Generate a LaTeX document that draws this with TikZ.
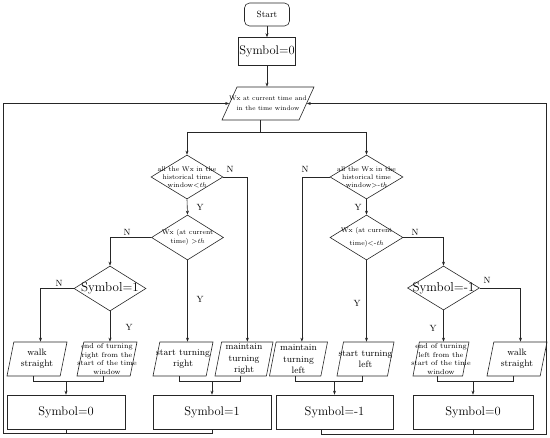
\documentclass[tikz,border=0pt]{standalone}
\usetikzlibrary{shapes.geometric,arrows.meta,calc}
\begin{document}
\begin{tikzpicture}[x=1pt,y=-1pt,
  line/.style={draw=black!85, line width=0.6pt},
  arr/.style={line, -{Stealth[length=4pt,width=3pt]}},
  pbox/.style={trapezium, trapezium left angle=81.6, trapezium right angle=98.4,
    trapezium stretches=true, line, minimum width=60, minimum height=34, inner sep=1pt},
  dbox/.style={diamond, line, inner sep=1pt, minimum width=72, minimum height=44},
  sbox/.style={rectangle, line, minimum width=118, minimum height=34, inner sep=0,
    font=\fontsize{12.5}{14}\selectfont},
  ptxt/.style={font=\fontsize{9.3}{11.4}\selectfont, align=center, inner sep=0},
  etxt/.style={font=\fontsize{7.2}{8.7}\selectfont, align=center, inner sep=0},
  dtxt/.style={font=\fontsize{6.8}{8}\selectfont, align=center, inner sep=0},
  ctxt/.style={font=\fontsize{6.8}{9}\selectfont, align=center, inner sep=0},
  symd/.style={font=\fontsize{13}{15}\selectfont, inner sep=0},
  yn/.style={font=\fontsize{9}{10}\selectfont, inner sep=0}]
\useasboundingbox (0,0) rectangle (550,438);

% top
\node[line, rounded corners=5pt, minimum width=45, minimum height=23, inner sep=0,
  font=\fontsize{9}{10}\selectfont] (start) at (267,14.5) {Start};
\node[sbox, minimum width=57, minimum height=28] (s0top) at (267,51.5) {Symbol=0};
\node[pbox, trapezium left angle=76.4, trapezium right angle=103.6,
  minimum width=92, minimum height=33,
  label={[font=\fontsize{6.5}{10}\selectfont, align=center, inner sep=0]center:Wx at current time and\\in the time window}] (in) at (268,103.5) {};

% decisions
\node[dbox, label={[dtxt]center:all the Wx in the\\historical time\\window<\textit{th}}] (d1) at (187,177) {};
\node[dbox, minimum height=45, label={[ctxt]center:Wx (at current\\time) >\textit{th}}] (d2) at (187.5,237.5) {};
\node[dbox, minimum width=73, label={[dtxt]center:all the Wx in the\\historical time\\window>-\textit{th}}] (d3) at (366.5,177) {};
\node[dbox, minimum width=73, minimum height=45, label={[font=\fontsize{6.8}{13}\selectfont, align=center, inner sep=0]center:Wx (at current\\time)<-\textit{th}}] (d4) at (366.5,237.5) {};
\node[dbox, minimum height=45, label={[symd]center:Symbol=1}] (s1d) at (110,288.5) {};
\node[dbox, label={[symd]center:Symbol=-1}] (d5) at (443.5,288) {};

% actions
\node[pbox, label={[ptxt]center:walk\\straight}] (ws1) at (37,359) {};
\node[pbox, label={[etxt]center:end of turning\\right from the\\start of the time\\window}] (etr) at (107,359) {};
\node[pbox, label={[ptxt]center:start turning\\right}] (str) at (183,359) {};
\node[pbox, minimum width=58, label={[ptxt]center:maintain\\turning\\right}] (mtr) at (244,359) {};
\node[pbox, minimum width=58, label={[ptxt]center:maintain\\turning\\left}] (mtl) at (298.5,359) {};
\node[pbox, minimum width=57, label={[ptxt]center:start turning\\left}] (stl) at (365.5,359) {};
\node[pbox, minimum width=56, label={[etxt]center:end of turning\\left from the\\start of the time\\window}] (etl) at (441,359) {};
\node[pbox, label={[ptxt]center:walk\\straight}] (ws2) at (517,359) {};

% results
\node[sbox] (s0a) at (66,412) {Symbol=0};
\node[sbox] (s1) at (212,412) {Symbol=1};
\node[sbox, minimum width=117] (sm1) at (334.5,412) {Symbol=-1};
\node[sbox, minimum width=120] (s0b) at (473,412) {Symbol=0};

% Y / N labels
\node[yn] (n1) at (230,169) {N};
\node[yn] (y1) at (200,207) {Y};
\node[yn] (n2) at (127,232) {N};
\node[yn] (y2) at (200,299) {Y};
\node[yn] (n3) at (59,283) {N};
\node[yn] (y3) at (129,327) {Y};
\node[yn] (n4) at (305,169) {N};
\node[yn] (y4) at (358,207) {Y};
\node[yn] (n5) at (415,232) {N};
\node[yn] (y5) at (357,303) {Y};
\node[yn] (n6) at (487,280) {N};
\node[yn] (y6) at (433,328) {Y};

% connectors
\draw[arr] (start.south) -- (s0top.north);
\draw[arr] (s0top.south) -- (s0top.south |- in.top side);
\coordinate (brl) at (187,132);
\coordinate (brr) at (366.5,132);
\draw[line] (in.bottom side) -- (in.bottom side |- brl);
\draw[arr] (brl) -- (d1.north);
\draw[arr] (brr) -- (d3.north);
\draw[line] (brl) -- (brr);

\draw[arr] (d1.south) -- (d2.north);
\draw[arr] (d1.east) -| (mtr.top side);
\draw[arr] (d2.west) -| (s1d.north);
\draw[arr] (d2.south) -- (d2.south |- str.top side);
\draw[arr] (s1d.west) -| (ws1.top side);
\draw[arr] (s1d.south) -- (s1d.south |- etr.top side);

\draw[arr] (d3.south) -- (d4.north);
\draw[arr] (d3.west) -| (mtl.top side);
\draw[arr] (d4.east) -| (d5.north);
\draw[arr] (d4.south) -- (d4.south |- stl.top side);
\draw[arr] (d5.east) -| (ws2.top side);
\draw[arr] (d5.south) -- (d5.south |- etl.top side);

% merges
\coordinate (m1) at ($(s0a.north)+(0,-13)$);
\coordinate (m2) at ($(s1.north)+(0,-13)$);
\coordinate (m3) at ($(sm1.north)+(0,-13)$);
\coordinate (m4) at ($(s0b.north)+(0,-13)$);
\draw[line] (ws1.bottom side) |- (m1) -| (etr.bottom side);
\draw[line] (str.bottom side) |- (m2) -| (mtr.bottom side);
\draw[line] (mtl.bottom side) |- (m3) -| (stl.bottom side);
\draw[line] (etl.bottom side) |- (m4) -| (ws2.bottom side);
\draw[arr] (m1) -- (s0a.north);
\draw[arr] (m2) -- (s1.north);
\draw[arr] (m3) -- (sm1.north);
\draw[arr] (m4) -- (s0b.north);

% feedback loops
\coordinate (lb) at (3,433);
\coordinate (rb) at (546.5,434);
\draw[line] (s0a.south) -- (s0a.south |- lb);
\draw[arr] (s1.south) |- (lb) |- (in.left side);
\draw[line] (s0b.south) -- (s0b.south |- rb);
\draw[arr] ($(sm1.south)+(-13,0)$) |- (rb) |- (in.right side);
\end{tikzpicture}
\end{document}
